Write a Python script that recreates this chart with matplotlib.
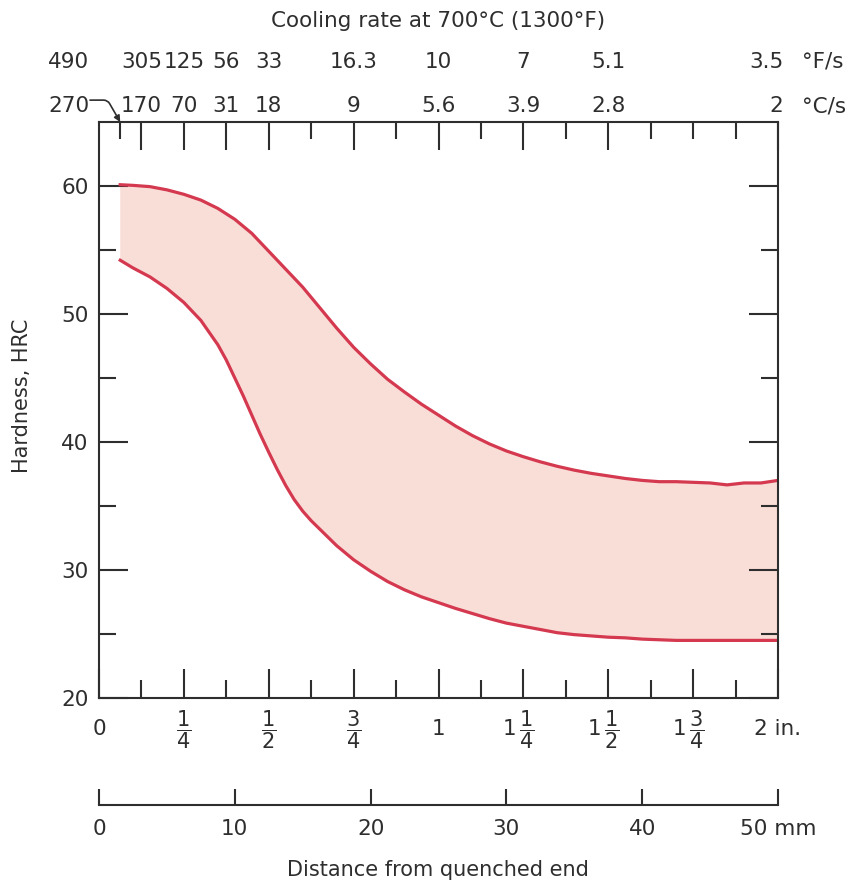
import numpy as np
import matplotlib
matplotlib.use("Agg")
import matplotlib.pyplot as plt
from matplotlib.transforms import blended_transform_factory

plt.rcParams['font.family'] = ['DejaVu Sans']
plt.rcParams['mathtext.default'] = 'regular'

# hardness band, distance in inches vs HRC
upper_x = [0.0625, 0.10, 0.15, 0.20, 0.25, 0.30, 0.35, 0.40, 0.45, 0.50,
           0.55, 0.60, 0.65, 0.70, 0.75, 0.80, 0.85, 0.90, 0.95, 1.00,
           1.05, 1.10, 1.15, 1.20, 1.25, 1.30, 1.35, 1.40, 1.45, 1.50,
           1.55, 1.60, 1.65, 1.70, 1.75, 1.80, 1.85, 1.90, 1.95, 2.00]
upper_y = [60.1, 60.05, 59.95, 59.7, 59.35, 58.9, 58.25, 57.4, 56.3, 54.9,
           53.5, 52.1, 50.5, 48.9, 47.4, 46.1, 44.9, 43.9, 42.95, 42.1,
           41.25, 40.5, 39.85, 39.3, 38.85, 38.45, 38.1, 37.8, 37.55, 37.35,
           37.15, 37.0, 36.9, 36.9, 36.85, 36.8, 36.65, 36.8, 36.8, 37.0]
lower_x = [0.0625, 0.10, 0.15, 0.20, 0.25, 0.30, 0.35, 0.375, 0.40, 0.425,
           0.45, 0.475, 0.50, 0.525, 0.55, 0.575, 0.60, 0.625, 0.65, 0.70,
           0.75, 0.80, 0.85, 0.90, 0.95, 1.00, 1.05, 1.10, 1.15, 1.20,
           1.25, 1.30, 1.35, 1.40, 1.45, 1.50, 1.55, 1.60, 1.65, 1.70, 2.00]
lower_y = [54.2, 53.6, 52.9, 52.0, 50.9, 49.5, 47.6, 46.4, 45.0, 43.6,
           42.1, 40.6, 39.2, 37.85, 36.6, 35.5, 34.6, 33.85, 33.2, 31.9,
           30.8, 29.9, 29.1, 28.45, 27.9, 27.45, 27.0, 26.6, 26.2, 25.85,
           25.6, 25.35, 25.1, 24.95, 24.85, 24.75, 24.7, 24.6, 24.55, 24.5, 24.5]

# cooling rate scale (Jominy positions in 1/16 in.)
rate_pos = [1, 2, 4, 6, 8, 12, 16, 20, 24, 32]
rate_F = ['490', '305', '125', '56', '33', '16.3', '10', '7', '5.1', '3.5']
rate_C = ['270', '170', '70', '31', '18', '9', '5.6', '3.9', '2.8', '2']
short_top = [1, 10, 14, 18, 22, 26, 28, 30]

inch_ticks = [0, 0.25, 0.5, 0.75, 1, 1.25, 1.5, 1.75, 2]
inch_whole = ['0', '', '', '', '1', '1', '1', '1', '2 in.']
inch_frac = ['', '1/4', '1/2', '3/4', '', '1/4', '1/2', '3/4', '']
mm_ticks = [0, 10, 20, 30, 40, 50]
mm_labels = ['0', '10', '20', '30', '40', '50 mm']

red = '#d4394f'
pink = '#f9ded7'
ink = '#2e2e2e'
fs = 15.5
W, H = 848, 883
PT = 0.72  # points per pixel at dpi 100

fig = plt.figure(figsize=(W / 100, H / 100), dpi=100)
ax = fig.add_axes([99 / W, 1 - 698 / H, 679 / W, 576 / H])
ax.set_xlim(0, 2)
ax.set_ylim(20, 65)

ax.fill(np.concatenate([upper_x, lower_x[::-1]]),
        np.concatenate([upper_y, lower_y[::-1]]), color=pink, lw=0)
ax.plot(upper_x, upper_y, color=red, lw=2.3)
ax.plot(lower_x, lower_y, color=red, lw=2.3)

for s in ax.spines.values():
    s.set_linewidth(1.5)
    s.set_color(ink)

ax.set_yticks([20, 30, 40, 50, 60])
ax.set_yticks([25, 35, 45, 55], minor=True)
ax.tick_params(axis='y', which='major', direction='in', length=21, width=1.5,
               left=True, right=True, labelsize=fs, pad=7.5, colors=ink)
ax.tick_params(axis='y', which='minor', direction='in', length=12.5, width=1.5,
               left=True, right=True, colors=ink)

ax.set_xticks(inch_ticks, [''] * len(inch_ticks))
ax.set_xticks(np.arange(0.125, 2, 0.25), minor=True)
ax.tick_params(axis='x', which='major', direction='in', length=21, width=1.5,
               top=False, colors=ink)
ax.tick_params(axis='x', which='minor', direction='in', length=13, width=1.5,
               top=False, colors=ink)

tr = blended_transform_factory(ax.transData, ax.transAxes)
for x, whole, frac in zip(inch_ticks, inch_whole, inch_frac):
    if frac:
        num, den = frac.split('/')
        fx = -4 if whole else 0
        ax.annotate(r'$\dfrac{%s}{%s}$' % (num, den), xy=(x, 0), xycoords=tr,
                    xytext=(fx * PT, -32 * PT), textcoords='offset points',
                    ha='left' if whole else 'center', va='center',
                    fontsize=15, color=ink)
        if whole:
            ax.annotate(whole, xy=(x, 0), xycoords=tr,
                        xytext=(-7 * PT, -37 * PT), textcoords='offset points',
                        ha='right', va='baseline', fontsize=fs, color=ink)
    else:
        ax.annotate(whole, xy=(x, 0), xycoords=tr,
                    xytext=(0, -37 * PT), textcoords='offset points',
                    ha='center', va='baseline', fontsize=fs, color=ink)

# top cooling-rate ticks
axt = ax.twiny()
axt.set_xlim(0, 2)
axt.set_xticks([p / 16 for p in rate_pos if p not in short_top])
axt.set_xticks([p / 16 for p in short_top], minor=True)
axt.tick_params(axis='x', which='major', direction='in', length=20, width=1.5,
                labeltop=False, colors=ink)
axt.tick_params(axis='x', which='minor', direction='in', length=12, width=1.5,
                colors=ink)
for s in axt.spines.values():
    s.set_visible(False)

for p, f, c in zip(rate_pos, rate_F, rate_C):
    x = p / 16
    ha = 'center'
    if p == 1:
        x = -0.09
    if p == 32:
        x = 2.015
        ha = 'right'
    ax.text(x, 1.0938, f, transform=tr, ha=ha, va='baseline', fontsize=fs,
            color=ink, clip_on=False)
    ax.text(x, 1.0165, c, transform=tr, ha=ha, va='baseline', fontsize=fs,
            color=ink, clip_on=False)
ax.text(2.07, 1.0938, '°F/s', transform=tr, ha='left', va='baseline',
        fontsize=fs, color=ink)
ax.text(2.07, 1.0165, '°C/s', transform=tr, ha='left', va='baseline',
        fontsize=fs, color=ink)
ax.text(0.5, 1.165, 'Cooling rate at 700°C (1300°F)', transform=ax.transAxes,
        ha='center', va='baseline', fontsize=fs, color=ink)
ax.annotate('', xy=(1 / 16, 1.0), xycoords=tr, xytext=(-0.0265, 1.038),
            textcoords=tr,
            arrowprops=dict(arrowstyle='-|>', color=ink, lw=1.2,
                            connectionstyle='angle,angleA=0,angleB=120,rad=4',
                            shrinkA=0, shrinkB=0, mutation_scale=9))

# mm scale
axm = fig.add_axes([99 / W, 1 - 805 / H, 679 / W, 0.0005])
axm.set_xlim(0, 50)
axm.patch.set_visible(False)
for k in ['top', 'left', 'right']:
    axm.spines[k].set_visible(False)
axm.spines['bottom'].set_linewidth(1.5)
axm.spines['bottom'].set_color(ink)
axm.set_yticks([])
axm.set_xticks(mm_ticks, mm_labels)
axm.tick_params(axis='x', direction='in', length=11.5, width=1.5,
                labelsize=fs, pad=21.5, colors=ink)
for lab in axm.get_xticklabels():
    lab.set_va('baseline')

fig.text(22 / W, 1 - 396 / H, 'Hardness, HRC', rotation=90, ha='center',
         va='center', fontsize=fs - 0.5, color=ink)
fig.text(438 / W, 1 - 876 / H, 'Distance from quenched end', ha='center',
         va='baseline', fontsize=fs - 0.5, color=ink)

fig.savefig('out.png', dpi=100)
